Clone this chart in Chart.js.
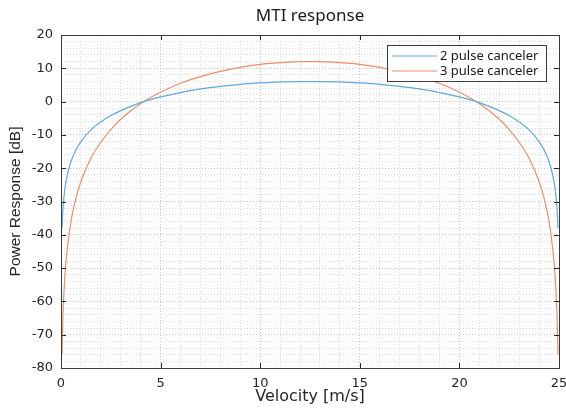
<!DOCTYPE html>
<html>
<head>
<meta charset="utf-8">
<script src="https://cdn.jsdelivr.net/npm/chart.js@4"></script>
<style>
  html, body { margin: 0; padding: 0; background: #fff; }
  canvas { display: block; }
</style>
</head>
<body>
<canvas id="grafico" width="566" height="410"></canvas>
<script>
// velocidades [m/s] e resposta [dB]
const velocity = [0.05, 0.1, 0.2, 0.3, 0.5, 0.75, 1, 1.5, 2, 2.5, 3, 4, 5, 6, 7, 8, 9, 10, 11, 12, 12.5,
  13, 14, 15, 16, 17, 18, 19, 20, 21, 22, 22.5, 23, 23.5, 24, 24.25, 24.5, 24.7, 24.8, 24.9, 24.95];
const pulse2 = [-38.0, -32.0, -26.0, -22.5, -18.0, -14.5, -12.0, -8.5, -6.1, -4.2, -2.7, -0.3, 1.4, 2.7, 3.8, 4.6, 5.2, 5.6, 5.9, 6.0, 6.0,
  6.0, 5.9, 5.6, 5.2, 4.6, 3.8, 2.7, 1.4, -0.3, -2.7, -4.2, -6.1, -8.5, -12.0, -14.5, -18.0, -22.5, -26.0, -32.0, -38.0];
const pulse3 = [-76.0, -64.0, -52.0, -45.0, -36.0, -29.0, -24.0, -17.0, -12.2, -8.4, -5.3, -0.6, 2.8, 5.5, 7.5, 9.1, 10.3, 11.2, 11.7, 12.0, 12.0,
  12.0, 11.7, 11.2, 10.3, 9.1, 7.5, 5.5, 2.8, -0.6, -5.3, -8.4, -12.2, -17.0, -24.0, -29.0, -36.0, -45.0, -52.0, -64.0, -76.0];
const seriesNames = ["2 pulse canceler", "3 pulse canceler"];
const xTicks = [0, 5, 10, 15, 20, 25];
const yTicks = [20, 10, 0, -10, -20, -30, -40, -50, -60, -70, -80];

const SANS = "'DejaVu Sans', sans-serif";
const NOTO = "'Noto Sans', sans-serif";
const ARIAL = "'Liberation Sans', Arial, sans-serif";
const BLUE = "#5ea9dd";
const ORANGE = "#ee8b6b";

const pts = arr => velocity.map((v, i) => ({ x: v, y: arr[i] }));

// moldura, marcas internas, título e legenda (estilo MATLAB)
const molduraPlugin = {
  id: "moldura",
  afterDatasetsDraw(chart) {
    const { ctx, chartArea: a, scales } = chart;
    ctx.save();
    ctx.strokeStyle = "#262626";
    ctx.lineWidth = 1;
    ctx.beginPath();
    xTicks.forEach(t => {
      const px = Math.round(scales.x.getPixelForValue(t)) + 0.5;
      ctx.moveTo(px, a.bottom); ctx.lineTo(px, a.bottom - 5);
      ctx.moveTo(px, a.top); ctx.lineTo(px, a.top + 5);
    });
    yTicks.forEach(t => {
      const py = Math.round(scales.y.getPixelForValue(t)) + 0.5;
      ctx.moveTo(a.left, py); ctx.lineTo(a.left + 5, py);
      ctx.moveTo(a.right, py); ctx.lineTo(a.right - 5, py);
    });
    ctx.stroke();
    ctx.strokeStyle = "#3a3a3a";
    ctx.strokeRect(Math.round(a.left) + 0.5, Math.round(a.top) + 0.5,
      Math.round(a.right - a.left), Math.round(a.bottom - a.top));

    // título
    ctx.fillStyle = "#1a1a1a";
    ctx.font = "17px " + NOTO;
    ctx.textAlign = "center";
    ctx.textBaseline = "middle";
    ctx.fillText("MTI response", (a.left + a.right) / 2, 16);

    // legenda
    const bx = 387.5, by = 45.5, bw = 159, bh = 36;
    ctx.fillStyle = "#fff";
    ctx.fillRect(bx, by, bw, bh);
    ctx.strokeStyle = "#3a3a3a";
    ctx.strokeRect(bx, by, bw, bh);
    [BLUE, ORANGE].forEach((c, i) => {
      const y = 56 + i * 15;
      ctx.strokeStyle = c;
      ctx.lineWidth = 1.2;
      ctx.beginPath();
      ctx.moveTo(392, y); ctx.lineTo(437, y);
      ctx.stroke();
      ctx.fillStyle = "#1a1a1a";
      ctx.font = "13px " + NOTO;
      ctx.textAlign = "left";
      ctx.fillText(seriesNames[i], 440, y);
    });
    ctx.restore();
  }
};

new Chart(document.getElementById("grafico"), {
  type: "line",
  data: {
    datasets: [
      { label: seriesNames[0], data: pts(pulse2), borderColor: BLUE, borderWidth: 1.2,
        pointRadius: 0, cubicInterpolationMode: "monotone" },
      { label: seriesNames[1], data: pts(pulse3), borderColor: ORANGE, borderWidth: 1.2,
        pointRadius: 0, cubicInterpolationMode: "monotone" }
    ]
  },
  options: {
    responsive: false,
    animation: false,
    layout: { padding: { top: 35, right: 7, left: 0, bottom: 0 } },
    plugins: { legend: { display: false }, title: { display: false }, tooltip: { enabled: false } },
    scales: {
      x: {
        type: "linear", min: 0, max: 25,
        afterFit: s => { s.height = 42; s.paddingLeft = 0; s.paddingRight = 0; },
        afterBuildTicks: s => { s.ticks = Array.from({ length: 26 }, (_, i) => ({ value: i })); },
        ticks: {
          autoSkip: false, maxRotation: 0, padding: 8, color: "#262626",
          font: { family: SANS, size: 13 },
          callback: v => (xTicks.includes(v) ? v : "")
        },
        grid: {
          drawTicks: false,
          color: c => (c.tick && xTicks.includes(c.tick.value) ? "#c4c4c4" : "#dcdcdc")
        },
        border: { display: false, dash: [1, 2] },
        title: { display: true, text: "Velocity [m/s]", color: "#262626",
          font: { family: SANS, size: 16 }, padding: { top: 0, bottom: 4 } }
      },
      y: {
        type: "linear", min: -80, max: 20,
        afterFit: s => { s.width = 61; },
        afterBuildTicks: s => { s.ticks = Array.from({ length: 51 }, (_, i) => ({ value: -80 + 2 * i })); },
        ticks: {
          autoSkip: false, padding: 8, color: "#262626",
          font: { family: SANS, size: 13 },
          callback: v => (yTicks.includes(v) ? v : "")
        },
        grid: {
          drawTicks: false,
          color: c => (c.tick && yTicks.includes(c.tick.value) ? "#c4c4c4" : "#dcdcdc")
        },
        border: { display: false, dash: [1, 2] },
        title: { display: true, text: "Power Response [dB]", color: "#262626",
          font: { family: ARIAL, size: 15.5 }, padding: { top: 6, bottom: 0 } }
      }
    }
  },
  plugins: [molduraPlugin]
});
</script>
</body>
</html>
